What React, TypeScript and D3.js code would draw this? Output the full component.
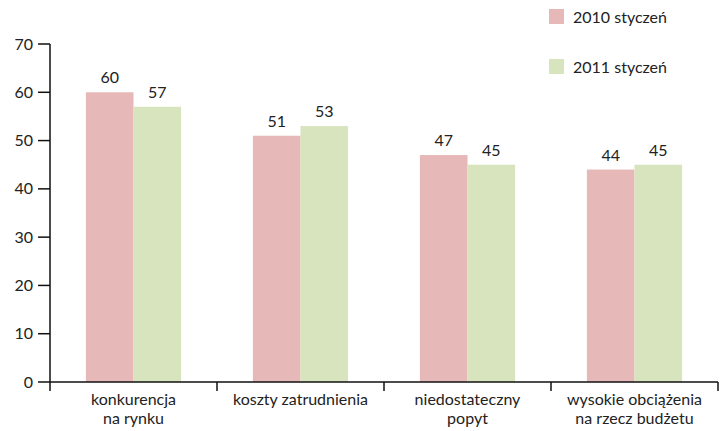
import * as d3 from 'd3';
import React from 'react';

const categories = [
    ['konkurencja', 'na rynku'],
    ['koszty zatrudnienia'],
    ['niedostateczny', 'popyt'],
    ['wysokie obciążenia', 'na rzecz budżetu'],
];
const seriesNames = ['2010 styczeń', '2011 styczeń'];
const values2010 = [60, 51, 47, 44];
const values2011 = [57, 53, 45, 45];
const yTicks = [0, 10, 20, 30, 40, 50, 60, 70];
const colours = ['#e6b8b7', '#d7e4bd'];

const width = 722;
const height = 431;
const margin = { top: 44, right: 4, bottom: 49, left: 50 };
const font = 'Lato, "Noto Sans", sans-serif';

export default function App() {
    const innerW = width - margin.left - margin.right;
    const innerH = height - margin.top - margin.bottom;

    const x = d3.scaleBand<number>().domain(d3.range(categories.length)).range([0, innerW]).paddingInner(0).paddingOuter(0);
    const pairW = x.bandwidth() * 0.57;
    const xs = d3.scaleBand<number>().domain([0, 1]).range([0, pairW]);
    const y = d3.scaleLinear().domain([0, 70]).range([innerH, 0]);
    const series = [values2010, values2011];

    return (
        <svg width={width} height={height} style={{ position: 'absolute', left: 0, top: 0, fontFamily: font }}>
            <g transform={`translate(${margin.left},${margin.top})`}>
                {series.map((vals, s) =>
                    vals.map((v, i) => {
                        const bx = (x(i) as number) + (x.bandwidth() - pairW) / 2 + (xs(s) as number);
                        return (
                            <g key={`${s}-${i}`}>
                                <rect x={bx} y={y(v)} width={xs.bandwidth()} height={innerH - y(v)} fill={colours[s]} />
                                <text x={bx + xs.bandwidth() / 2} y={y(v) - 9} textAnchor="middle" fontSize={16} fill="#222">{v}</text>
                            </g>
                        );
                    })
                )}
                {/* y axis */}
                <line x1={0} x2={0} y1={0} y2={innerH} stroke="#111" strokeWidth={1.5} />
                {yTicks.map((t) => (
                    <g key={t} transform={`translate(0,${y(t)})`}>
                        <line x1={-12} x2={0} stroke="#111" strokeWidth={1.5} />
                        <text x={-17} dy="0.35em" textAnchor="end" fontSize={16} fill="#222">{t}</text>
                    </g>
                ))}
                {/* x axis */}
                <line x1={0} x2={innerW} y1={innerH} y2={innerH} stroke="#111" strokeWidth={1.5} />
                {d3.range(categories.length + 1).map((i) => (
                    <line key={i} x1={i * x.step()} x2={i * x.step()} y1={innerH} y2={innerH + 9} stroke="#111" strokeWidth={1.5} />
                ))}
                {categories.map((lines, i) => (
                    <text key={i} x={(x(i) as number) + x.bandwidth() / 2} y={innerH + 23} textAnchor="middle" fontSize={16} fill="#222">
                        {lines.map((l, j) => (
                            <tspan key={j} x={(x(i) as number) + x.bandwidth() / 2} dy={j === 0 ? 0 : 19}>{l}</tspan>
                        ))}
                    </text>
                ))}
            </g>
            {/* legend */}
            {seriesNames.map((n, i) => (
                <g key={n} transform={`translate(549,${9 + i * 50})`}>
                    <rect width={15} height={15} fill={colours[i]} />
                    <text x={24} y={14} fontSize={16} fill="#222">{n}</text>
                </g>
            ))}
        </svg>
    );
}
